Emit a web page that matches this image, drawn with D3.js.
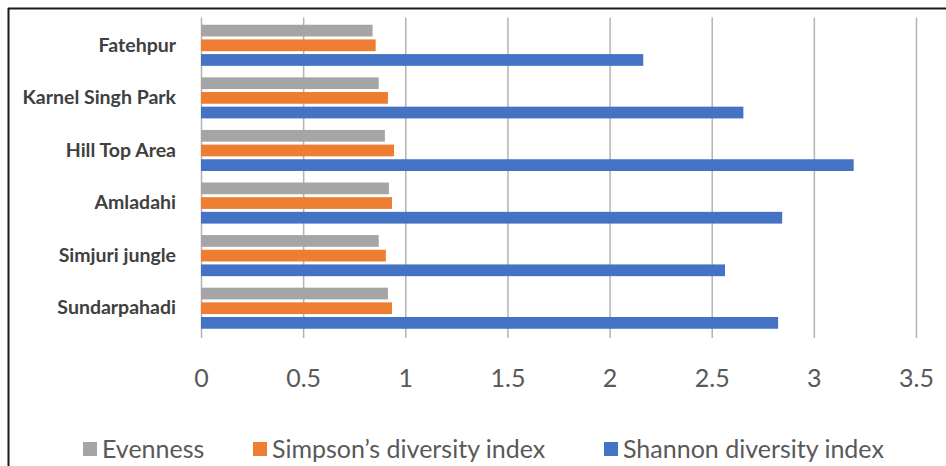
<!DOCTYPE html>
<html lang="en">
  <head>
    <meta charset="UTF-8" />
    <title>Diversity indices</title>
    <script src="https://d3js.org/d3.v7.min.js"></script>
    <style>
      body {
        margin: 0;
        background: #ffffff;
      }
      .cat text {
        font-family: Lato, "Open Sans", sans-serif;
        font-weight: bold;
        font-size: 19.5px;
        fill: #404040;
      }
      .xaxis text {
        font-family: Lato, "Open Sans", sans-serif;
        font-size: 25px;
        fill: #595959;
      }
      .legend text {
        font-family: Lato, "Open Sans", sans-serif;
        font-size: 25px;
        fill: #595959;
      }
    </style>
  </head>
  <body>
    <div class="chart"></div>
  </body>

  <script>
    // data
    var sites = ["Fatehpur", "Karnel Singh Park", "Hill Top Area", "Amladahi", "Simjuri jungle", "Sundarpahadi"];
    var seriesNames = ["Evenness", "Simpson\u2019s diversity index", "Shannon diversity index"];
    var evenness = [0.84, 0.87, 0.9, 0.92, 0.87, 0.915];
    var simpson = [0.855, 0.915, 0.945, 0.935, 0.905, 0.935];
    var shannon = [2.165, 2.655, 3.195, 2.845, 2.565, 2.825];
    var xTicks = [0, 0.5, 1, 1.5, 2, 2.5, 3, 3.5];
    var colors = ["#a5a5a5", "#ed7d31", "#4472c4"];

    var W = 946, H = 466;
    var plot = { left: 201, right: 916, top: 17.5, bottom: 333 };

    var rows = sites.map(function (s, i) {
      return { site: s, values: [evenness[i], simpson[i], shannon[i]] };
    });

    var svg = d3
      .select(".chart")
      .append("svg")
      .attr("width", W)
      .attr("height", H);

    svg.append("rect").attr("width", W).attr("height", H).attr("fill", "#fff");

    // frame of the original figure (left and top edges only visible)
    svg.append("line").attr("x1", 8.5).attr("x2", 8.5).attr("y1", 8).attr("y2", H)
      .attr("stroke", "#1a1a1a").attr("stroke-width", 2);
    svg.append("line").attr("x1", 8).attr("x2", W).attr("y1", 8.5).attr("y2", 8.5)
      .attr("stroke", "#1a1a1a").attr("stroke-width", 2);

    var x = d3.scaleLinear().domain([0, 3.5]).range([plot.left, plot.right]);

    var y = d3
      .scaleBand()
      .domain(sites)
      .range([plot.top + 1.5, plot.bottom + 1.5])
      .paddingInner(0.163)
      .paddingOuter(0.0815);

    var ySub = d3
      .scaleBand()
      .domain(d3.range(seriesNames.length))
      .range([0, y.bandwidth()])
      .paddingInner(0.2)
      .paddingOuter(0.1);

    // gridlines + tick labels
    var xAxis = d3
      .axisBottom(x)
      .tickValues(xTicks)
      .tickFormat(d3.format("~g"))
      .tickSize(-(plot.bottom + 5 - plot.top))
      .tickPadding(31);

    var gx = svg
      .append("g")
      .attr("class", "xaxis")
      .attr("transform", "translate(0," + (plot.bottom + 5) + ")")
      .call(xAxis);
    gx.select(".domain").remove();
    gx.selectAll(".tick line").attr("stroke", "#b3b3b3").attr("stroke-width", 1.5);

    // bars
    var groups = svg
      .selectAll(".site")
      .data(rows)
      .enter()
      .append("g")
      .attr("class", "site")
      .attr("transform", function (d) {
        return "translate(0," + y(d.site) + ")";
      });

    groups
      .selectAll("rect")
      .data(function (d) {
        return d.values;
      })
      .enter()
      .append("rect")
      .attr("x", x(0))
      .attr("y", function (d, i) {
        return ySub(i);
      })
      .attr("width", function (d) {
        return x(d) - x(0);
      })
      .attr("height", ySub.bandwidth())
      .attr("fill", function (d, i) {
        return colors[i];
      });

    // category labels
    var yAxis = d3.axisLeft(y).tickSize(0).tickPadding(25);
    var gy = svg
      .append("g")
      .attr("class", "cat")
      .attr("transform", "translate(" + plot.left + ",0)")
      .call(yAxis);
    gy.select(".domain").remove();

    // legend
    var legendX = [83, 253, 604];
    var legend = svg
      .append("g")
      .attr("class", "legend")
      .selectAll("g")
      .data(seriesNames)
      .enter()
      .append("g")
      .attr("transform", function (d, i) {
        return "translate(" + legendX[i] + ",449)";
      });
    legend
      .append("rect")
      .attr("x", 0)
      .attr("y", -7)
      .attr("width", 14)
      .attr("height", 14)
      .attr("fill", function (d, i) {
        return colors[i];
      });
    legend
      .append("text")
      .attr("x", 19)
      .attr("dy", "0.35em")
      .text(function (d) {
        return d;
      });
  </script>
</html>
